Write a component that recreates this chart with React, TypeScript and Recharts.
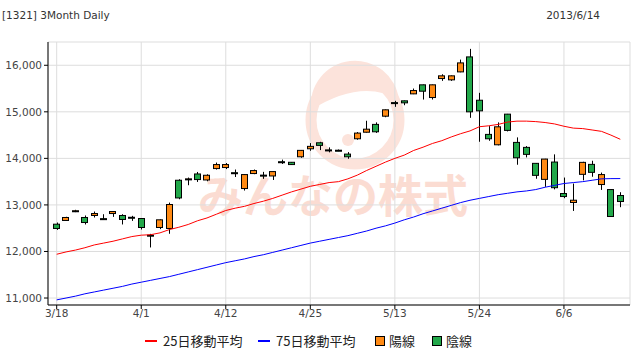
import { Bar, CartesianGrid, ComposedChart, Line, XAxis, YAxis } from "recharts";

// 3 months of daily candles, 2013/3/18 - 2013/6/14
const dates = [
  "3/18", "3/19", "3/21", "3/22", "3/25", "3/26", "3/27", "3/28", "3/29", "4/1",
  "4/2", "4/3", "4/4", "4/5", "4/8", "4/9", "4/10", "4/11", "4/12", "4/15",
  "4/16", "4/17", "4/18", "4/19", "4/22", "4/23", "4/24", "4/25", "4/26", "4/30",
  "5/1", "5/2", "5/7", "5/8", "5/9", "5/10", "5/13", "5/14", "5/15", "5/16",
  "5/17", "5/20", "5/21", "5/22", "5/23", "5/24", "5/27", "5/28", "5/29", "5/30",
  "5/31", "6/3", "6/4", "6/5", "6/6", "6/7", "6/10", "6/11", "6/12", "6/13",
  "6/14",
];
const opens = [
  12586, 12666, 12865, 12730, 12773, 12705, 12815, 12773, 12735, 12708,
  12350, 12515, 12494, 13530, 13550, 13665, 13536, 13781, 13803, 13692,
  13352, 13674, 13640, 13622, 13928, 13916, 14034, 14206, 14335, 14182,
  14175, 14092, 14421, 14562, 14730, 14906, 15198, 15236, 15386, 15580,
  15307, 15715, 15687, 15858, 16180, 15249, 14515, 14292, 14950, 14343,
  14236, 13893, 13549, 13921, 13245, 13052, 13657, 13871, 13438, 13330,
  13202,
];
const highs = [
  12622, 12745, 12895, 12773, 12858, 12800, 12865, 12800, 12765, 12712,
  12378, 12690, 13050, 13551, 13588, 13708, 13658, 13910, 13900, 13760,
  13660, 13760, 13710, 13720, 13973, 13922, 14180, 14328, 14356, 14236,
  14190, 14135, 14565, 14808, 14773, 15050, 15236, 15242, 15500, 15585,
  15585, 15807, 15780, 16122, 16352, 15408, 14693, 14773, 14955, 14451,
  14264, 13900, 13990, 14086, 13588, 13459, 13927, 13949, 13695, 13335,
  13273,
];
const lows = [
  12463, 12660, 12845, 12580, 12730, 12690, 12743, 12580, 12657, 12472,
  12086, 12480, 12380, 13122, 13423, 13494, 13508, 13760, 13770, 13600,
  13309, 13660, 13560, 13536, 13880, 13860, 14013, 14163, 14178, 14129,
  14155, 13991, 14400, 14555, 14547, 14884, 15107, 15142, 15380, 15264,
  15264, 15665, 15665, 15850, 14871, 14357, 14378, 14279, 14579, 13863,
  14021, 13562, 13388, 13334, 13144, 12871, 13528, 13605, 13322, 12750,
  12951,
];
const closes = [
  12494, 12730, 12875, 12622, 12815, 12695, 12858, 12687, 12725, 12515,
  12340, 12680, 13009, 13150, 13560, 13545, 13637, 13867, 13867, 13682,
  13652, 13738, 13634, 13716, 13918, 13867, 14172, 14258, 14279, 14174,
  14170, 14034, 14543, 14627, 14571, 15043, 15188, 15193, 15457, 15443,
  15580, 15773, 15773, 16051, 15000, 15021, 14421, 14678, 14601, 14013,
  14086, 13635, 13985, 13370, 13180, 13101, 13914, 13700, 13652, 12751,
  13073,
];
const ma25 = [
  11940, 11990, 12030, 12080, 12140, 12180, 12220, 12270, 12320, 12350,
  12360, 12400, 12470, 12520, 12580, 12660, 12720, 12800, 12880, 12930,
  12970, 13030, 13080, 13140, 13210, 13280, 13340, 13400, 13440, 13480,
  13500, 13560, 13640, 13740, 13830, 13920, 14000, 14070, 14170, 14240,
  14320, 14380, 14460, 14530, 14590, 14680, 14700, 14730, 14780, 14800,
  14800, 14790, 14770, 14740, 14690, 14650, 14640, 14610, 14580, 14500,
  14410,
];
const ma75 = [
  10960, 11000, 11040, 11090, 11130, 11170, 11210, 11250, 11300, 11340,
  11380, 11420, 11460, 11510, 11560, 11610, 11660, 11710, 11760, 11800,
  11840, 11890, 11930, 11980, 12030, 12080, 12130, 12180, 12220, 12260,
  12300, 12340, 12390, 12440, 12500, 12550, 12610, 12680, 12740, 12810,
  12870, 12930, 12990, 13050, 13100, 13140, 13180, 13220, 13250, 13280,
  13300, 13330, 13380, 13420, 13460, 13480, 13500, 13530, 13560, 13565,
  13566,
];
const tickDates = ["3/18", "4/1", "4/12", "4/25", "5/13", "5/24", "6/6"];
const priceTicks = [11000, 12000, 13000, 14000, 15000, 16000];

const UP = "#ff8a14";
const DOWN = "#22a84a";

const rows = dates.map((date, i) => ({
  date,
  open: opens[i],
  high: highs[i],
  low: lows[i],
  close: closes[i],
  range: [lows[i], highs[i]],
  ma25: ma25[i],
  ma75: ma75[i],
}));

function Candle(props: any) {
  const { x, y, width, height, payload } = props;
  const { open, close, high, low } = payload;
  const top0 = Math.min(y, y + height);
  const h = Math.abs(height);
  const k = h / (high - low);
  const py = (v: number) => top0 + (high - v) * k;
  const bodyTop = py(Math.max(open, close));
  const bodyBot = py(Math.min(open, close));
  const cx = Math.round(x + width / 2) + 0.5;
  const left = Math.round(x) + 0.5;
  return (
    <g>
      <line x1={cx} x2={cx} y1={top0} y2={top0 + h} stroke="#000" strokeWidth={1} />
      <rect
        x={left}
        y={bodyTop}
        width={width - 1}
        height={Math.max(bodyBot - bodyTop, 1)}
        fill={close >= open ? UP : DOWN}
        stroke="#000"
        strokeWidth={1}
      />
    </g>
  );
}

const tickStyle = { fontSize: 10.5, fill: "#444", fontFamily: "DejaVu Sans" };
const legendFont = { fontSize: 13, fill: "#222", fontFamily: "Noto Sans CJK JP" };

export default function App() {
  return (
    <div style={{ position: "absolute", left: 0, top: 0, width: 640, height: 360, background: "#fff" }}>
      <svg width={640} height={360} style={{ position: "absolute", left: 0, top: 0 }}>
        {/* watermark */}
        <circle cx={355} cy={120} r={44} fill="none" stroke="#fce3db" strokeWidth={11} />
        <path d="M 311 110 A 44 44 0 0 1 399 100 Q 362 78 311 110 Z" fill="#fce3db" />
        <circle cx={348} cy={140} r={6} fill="#fce3db" />
        <text x={198} y={213} fontSize={45} fontWeight="bold" fill="#fbdcd2" fontFamily="Noto Sans CJK JP">
          みんなの株式
        </text>
        {/* header */}
        <text x={2} y={19} fontSize={10.5} fill="#333" fontFamily="DejaVu Sans">
          [1321] 3Month Daily
        </text>
        <text x={600} y={19} fontSize={10.5} fill="#333" fontFamily="DejaVu Sans" textAnchor="end">
          2013/6/14
        </text>
        {/* legend */}
        <line x1={145} x2={157} y1={341} y2={341} stroke="#ff0000" strokeWidth={2} />
        <text x={163} y={346} {...legendFont}>25日移動平均</text>
        <line x1={258} x2={270} y1={341} y2={341} stroke="#0000ff" strokeWidth={2} />
        <text x={276} y={346} {...legendFont}>75日移動平均</text>
        <rect x={375.5} y={336.5} width={9} height={9} fill={UP} stroke="#000" />
        <text x={389} y={346} {...legendFont}>陽線</text>
        <rect x={432.5} y={336.5} width={9} height={9} fill={DOWN} stroke="#000" />
        <text x={446} y={346} {...legendFont}>陰線</text>
      </svg>
      <div style={{ position: "absolute", left: 0, top: 0 }}>
        <ComposedChart width={640} height={360} data={rows} margin={{ top: 42, right: 10, bottom: 35, left: 0 }}>
          <CartesianGrid stroke="#dddddd" />
          <XAxis
            dataKey="date"
            ticks={tickDates}
            interval={0}
            height={20}
            padding={{ left: 4, right: 5 }}
            tick={tickStyle}
            tickSize={4}
            tickMargin={1}
            tickLine={{ stroke: "#000" }}
            axisLine={{ stroke: "#000" }}
          />
          <YAxis
            domain={[10850, 16500]}
            ticks={priceTicks}
            width={48}
            tick={tickStyle}
            tickSize={4}
            tickMargin={2}
            tickLine={{ stroke: "#000" }}
            axisLine={{ stroke: "#000" }}
            tickFormatter={(v: number) => v.toLocaleString("en-US")}
          />
          <Line dataKey="ma25" stroke="#ff0000" strokeWidth={1} dot={false} type="linear" isAnimationActive={false} />
          <Line dataKey="ma75" stroke="#0000ff" strokeWidth={1} dot={false} type="linear" isAnimationActive={false} />
          <Bar dataKey="range" barSize={7} shape={<Candle />} isAnimationActive={false} />
        </ComposedChart>
      </div>
    </div>
  );
}
